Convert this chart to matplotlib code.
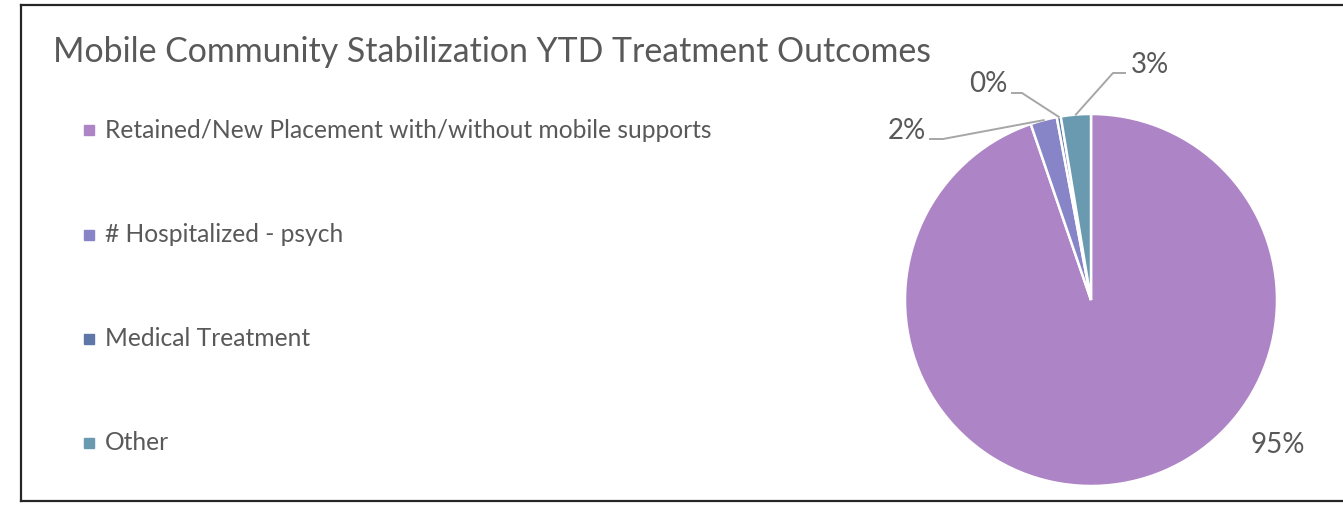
import matplotlib
matplotlib.use("Agg")
import matplotlib.pyplot as plt
from matplotlib.lines import Line2D
import numpy as np

categories = ["Retained/New Placement with/without mobile supports",
              "# Hospitalized - psych", "Medical Treatment", "Other"]
values = [94.75, 2.3, 0.35, 2.6]
pct_labels = ["95%", "2%", "0%", "3%"]
colors = ["#AD84C6", "#8784C7", "#5E77A8", "#6A9AB0"]
title = "Mobile Community Stabilization YTD Treatment Outcomes"

plt.rcParams['font.family'] = ['Lato', 'DejaVu Sans']
TXT = "#595959"

W, H = 1343, 507
fig = plt.figure(figsize=(W/100, H/100), dpi=100)

def fx(px): return px / W
def fy(py): return 1 - py / H

# frame (left, top, bottom)
for (x0, y0, x1, y1) in [(21, 5, 21, 501), (21, 5, W, 5), (21, 501, W, 501)]:
    fig.add_artist(Line2D([fx(x0), fx(x1)], [fy(y0), fy(y1)], color="#262626", lw=1.6))

fig.text(fx(53), fy(52), title, fontsize=24.4, color=TXT, va="center", ha="left")

# legend
leg_y = [130, 235, 339, 443]
for cat, col, py in zip(categories, colors, leg_y):
    fig.patches.append(plt.Rectangle((fx(84), fy(py + 5)), 10 / W, 10 / H,
                                     transform=fig.transFigure, color=col))
    fig.text(fx(105), fy(py), cat, fontsize=17.7, color=TXT, va="center", ha="left")

# pie
cx, cy, r = 1091, 300, 186
ax = fig.add_axes([fx(cx - r), fy(cy + r), 2 * r / W, 2 * r / H])
wedges, _ = ax.pie(values, colors=colors, startangle=90, counterclock=False,
                   wedgeprops=dict(edgecolor="white", linewidth=1.8))
ax.set_xlim(-1, 1); ax.set_ylim(-1, 1)
ax.set_aspect("equal")
ax.axis("off")

def d(px, py):
    return ((px - cx) / r, (cy - py) / r)

layout = {
    0: dict(text=(1278, 445), line=None),
    1: dict(text=(907, 131), line=[(930, 139), (943, 139)]),
    2: dict(text=(988, 84), line=[(1012, 93), (1022, 93)]),
    3: dict(text=(1150, 65), line=[(1125, 73), (1113, 73)]),
}
for i, w in enumerate(wedges):
    L = layout[i]
    tx, ty = d(*L["text"])
    ax.text(tx, ty, pct_labels[i], fontsize=20, color=TXT, ha="center", va="center", clip_on=False)
    if L["line"]:
        mid = np.deg2rad((w.theta1 + w.theta2) / 2)
        px0, py0 = 1.0 * np.cos(mid), 1.0 * np.sin(mid)
        (a, b) = d(*L["line"][0]); (c, e) = d(*L["line"][1])
        ax.plot([a, c, px0], [b, e, py0], color="#A6A6A6", lw=1.4, clip_on=False)

fig.savefig("out.png", dpi=100)
